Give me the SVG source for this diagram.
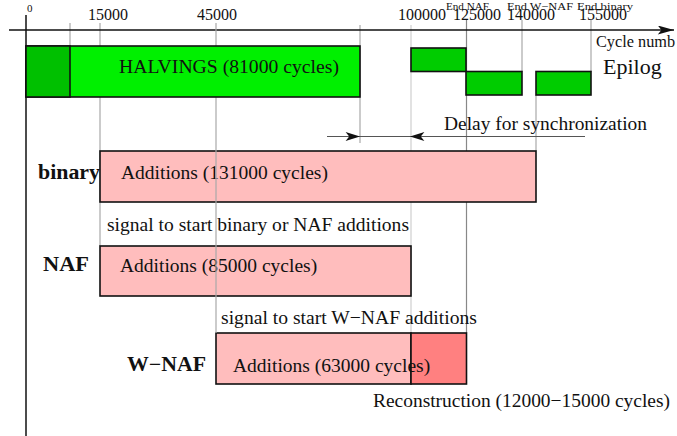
<svg xmlns="http://www.w3.org/2000/svg" width="677" height="436" viewBox="0 0 677 436">
<style>
text{font-family:"Liberation Serif","Times New Roman",serif;fill:#111}
.t{font-size:19.5px}
.tick{font-size:16px}
.end{font-size:11px}
.b{font-size:20px;font-weight:bold}
.g1{stroke:#a8a8a8;stroke-width:1.2}
.g2{stroke:#cfcfcf;stroke-width:1.2}
.g3{stroke:#888;stroke-width:1.2}
.box{stroke:#111;stroke-width:1.6}
.green{fill:#00f000}
.dgreen{fill:#00c000}
.egreen{fill:#00cc00}
.pink{fill:#ffbdbd}
.red{fill:#ff8080}
</style>
<defs>
<marker id="ah" markerUnits="userSpaceOnUse" viewBox="0 0 16 10" refX="16" refY="5" markerWidth="16" markerHeight="9" orient="auto">
<path d="M0,0 L16,5 L0,10 L4,5 Z" fill="#111"/>
</marker>
<marker id="axh" markerUnits="userSpaceOnUse" viewBox="0 0 18 10" refX="18" refY="5" markerWidth="19" markerHeight="9" orient="auto">
<path d="M0,0 L18,5 L0,10 L4,5 Z" fill="#111"/>
</marker>
</defs>
<rect width="677" height="436" fill="#fff"/>
<g id="guides">
<line class="g1" x1="70" y1="23" x2="70" y2="46"/>
<line class="g1" x1="100" y1="23" x2="100" y2="246"/>
<line class="g1" x1="360" y1="25" x2="360" y2="143"/>
<line class="g2" x1="411" y1="25" x2="411" y2="333"/>
<line class="g3" x1="466.5" y1="20" x2="466.5" y2="333"/>
<line class="g1" x1="522" y1="20" x2="522" y2="72"/>
<line class="g1" x1="536" y1="95" x2="536" y2="151"/>
<line class="g1" x1="591" y1="20" x2="591" y2="72"/>
</g>
<g id="axis">
<line x1="9" y1="30" x2="674" y2="30" stroke="#111" stroke-width="1.5" marker-end="url(#axh)"/>
<line x1="26" y1="15" x2="26" y2="436" stroke="#111" stroke-width="1.5"/>
<text x="27" y="12" style="font-size:11px">0</text>
<text class="tick" x="88" y="20">15000</text>
<text class="tick" x="197" y="20">45000</text>
<text class="tick" x="398" y="20">100000</text>
<text class="tick" x="453" y="20">125000</text>
<text class="tick" x="507" y="20">140000</text>
<text class="tick" x="579" y="20">155000</text>
<text class="end" x="446" y="9.5" textLength="43" lengthAdjust="spacingAndGlyphs">End NAF</text>
<text class="end" x="507" y="9.5" textLength="66" lengthAdjust="spacingAndGlyphs">End W−NAF</text>
<text class="end" x="577" y="9.5" textLength="56" lengthAdjust="spacingAndGlyphs">End binary</text>
<text x="596" y="46.5" style="font-size:16.3px">Cycle numb</text>
</g>
<g id="binary">
<rect class="box pink" x="100" y="151" width="436" height="51"/>
<text class="b" x="38" y="179" textLength="62" lengthAdjust="spacingAndGlyphs">binary</text>
<text class="t" x="121" y="179">Additions (131000 cycles)</text>
</g>
<g id="naf">
<text class="t" x="107" y="231" textLength="302" lengthAdjust="spacingAndGlyphs">signal to start binary or NAF additions</text>
<rect class="box pink" x="100" y="246" width="311" height="50"/>
<text class="b" x="43" y="271" textLength="46" lengthAdjust="spacingAndGlyphs">NAF</text>
<text class="t" x="120" y="272">Additions (85000 cycles)</text>
</g>
<g id="wnaf">
<text class="t" x="221" y="324" textLength="256" lengthAdjust="spacingAndGlyphs">signal to start W−NAF additions</text>
<rect class="box pink" x="216" y="333" width="195" height="51"/>
<rect class="box red" x="411" y="333" width="55.5" height="51"/>
<text class="b" x="127" y="371" textLength="79" lengthAdjust="spacingAndGlyphs">W−NAF</text>
<text class="t" x="233" y="372">Additions (63000 cycles)</text>
<text class="t" x="373" y="407" textLength="297" lengthAdjust="spacingAndGlyphs">Reconstruction (12000−15000 cycles)</text>
</g>
<line id="g216" class="g1" x1="216" y1="23" x2="216" y2="333"/>
<g id="halvings">
<rect class="box green" x="26" y="46" width="334" height="51"/>
<rect class="box dgreen" x="26" y="46" width="44" height="51"/>
<text class="t" x="119" y="72.5" textLength="220" lengthAdjust="spacingAndGlyphs">HALVINGS (81000 cycles)</text>
</g>
<g id="epilog">
<rect class="box egreen" x="411" y="48" width="55" height="23.5"/>
<rect class="box egreen" x="466" y="71.5" width="56" height="23.5"/>
<rect class="box egreen" x="536" y="71.5" width="55" height="23.5"/>
<text x="603" y="74" style="font-size:22px">Epilog</text>
</g>
<g id="connectors">
<line x1="327" y1="136.5" x2="360" y2="136.5" stroke="#555" stroke-width="1" marker-end="url(#ah)"/>
<line x1="360" y1="136.5" x2="411" y2="136.5" stroke="#555" stroke-width="1"/>
<line x1="585" y1="136.5" x2="410" y2="136.5" stroke="#555" stroke-width="1" marker-end="url(#ah)"/>
<text class="t" x="444" y="130" textLength="203" lengthAdjust="spacingAndGlyphs">Delay for synchronization</text>
</g>
</svg>
